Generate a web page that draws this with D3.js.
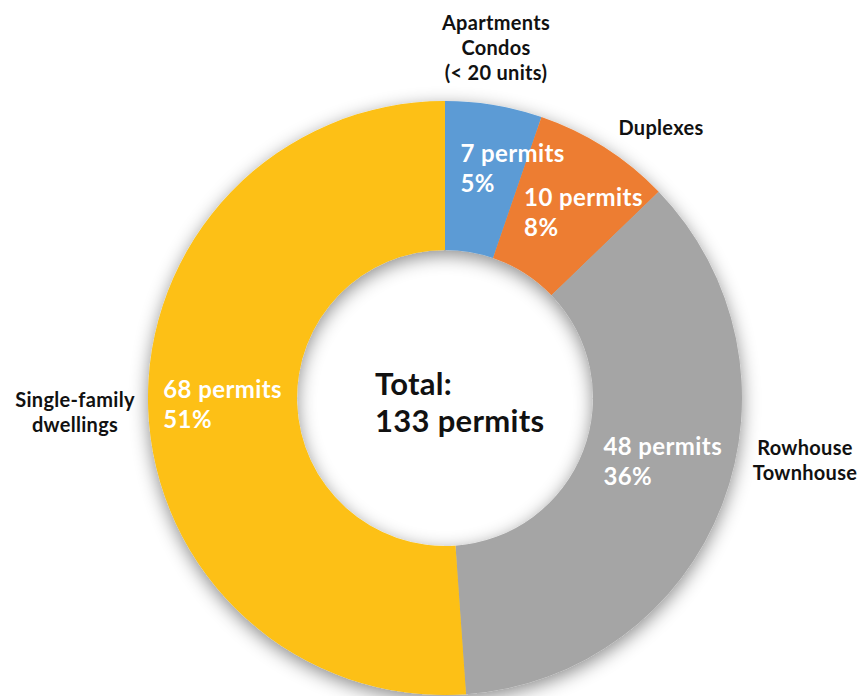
<!DOCTYPE html>
<html>
<head>
<meta charset="utf-8">
<script src="https://cdn.jsdelivr.net/npm/d3@7"></script>
<style>
  html, body { margin: 0; padding: 0; background: #ffffff; }
  svg { display: block; }
  text { font-family: Lato, "Open Sans", sans-serif; font-weight: 700; }
</style>
</head>
<body>
<div id="chart"></div>
<script>
// ---- data ----
const categories = ["Apartments\nCondos\n(< 20 units)", "Duplexes", "Rowhouse\nTownhouse", "Single-family\ndwellings"];
const permits = [7, 10, 48, 68];
const colors = ["#5B9BD5", "#ED7D31", "#A5A5A5", "#FDC012"];

// ---- layout (kept separate from data) ----
const W = 862, H = 696;
const cx = 445, cy = 398;
const outerR = 297, innerR = 148;
// nudges of value labels from arc centroid (block centre)
const valueNudge = [[31, -10], [19, 3], [10, -16], [0, -1]];
// category label block centres relative to centre, as [dx, dy]
const catPos = [[51, -350], [216, -270], [360, 62], [-370, 14]];

const total = d3.sum(permits);

const svg = d3.select("#chart").append("svg")
  .attr("width", W).attr("height", H);

const defs = svg.append("defs");
const f = defs.append("filter").attr("id", "shadow")
  .attr("x", "-20%").attr("y", "-20%").attr("width", "140%").attr("height", "140%");
f.append("feDropShadow").attr("dx", 0).attr("dy", 5).attr("stdDeviation", 9)
  .attr("flood-color", "#000").attr("flood-opacity", 0.45);

const pie = d3.pie().value(d => d).sort(null);
const arcs = pie(permits);
const arc = d3.arc().innerRadius(innerR).outerRadius(outerR);

const g = svg.append("g").attr("transform", `translate(${cx},${cy})`);

g.append("g").attr("filter", "url(#shadow)")
  .selectAll("path").data(arcs).join("path")
  .attr("d", arc)
  .attr("fill", (d, i) => colors[i]);

// value labels
const fmtPct = v => Math.round(v / total * 100) + "%";
const vfs = 24, vlh = 30;
arcs.forEach((d, i) => {
  const [x, y] = arc.centroid(d);
  const bx = x + valueNudge[i][0], by = y + valueNudge[i][1];
  const t = g.append("text")
    .attr("fill", "#ffffff").attr("font-size", vfs)
    .attr("letter-spacing", 0.4)
    .attr("text-anchor", "start");
  const lines = [d.data + " permits", fmtPct(d.data)];
  const l1 = t.append("tspan").attr("x", bx).attr("y", by - vlh / 2 + 8).text(lines[0]);
  const w = l1.node().getComputedTextLength();
  l1.attr("x", bx - w / 2);
  t.append("tspan").attr("x", bx - w / 2).attr("y", by + vlh / 2 + 8).text(lines[1]);
});

// category labels
const cfs = 20, clh = 25;
categories.forEach((c, i) => {
  const lines = c.split("\n");
  const t = g.append("text").attr("fill", "#111").attr("font-size", cfs)
    .attr("letter-spacing", 0.3)
    .attr("text-anchor", "middle");
  const n = lines.length;
  lines.forEach((ln, j) => {
    t.append("tspan").attr("x", catPos[i][0])
      .attr("y", catPos[i][1] + (j - (n - 1) / 2) * clh + 7).text(ln);
  });
});

// centre total
const ct = g.append("text").attr("fill", "#111").attr("font-size", 31)
  .attr("letter-spacing", 0.3);
ct.append("tspan").attr("x", -70).attr("y", -3).text("Total:");
ct.append("tspan").attr("x", -70).attr("y", 34).text(total + " permits");
</script>
</body>
</html>
